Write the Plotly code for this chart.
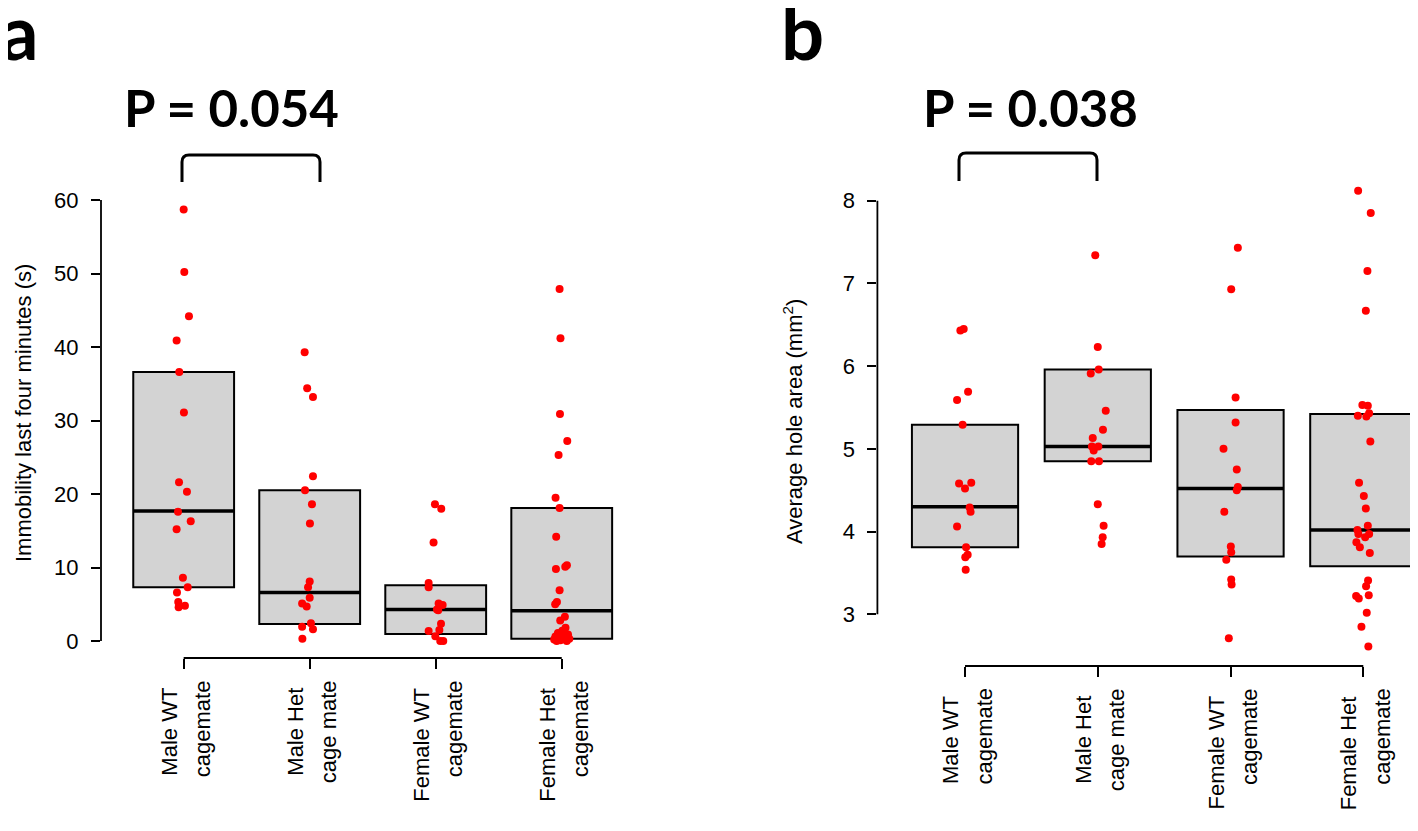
import plotly.graph_objects as go

# ---------------- data ----------------
categories = ["Male WT<br>cagemate", "Male Het<br>cage mate", "Female WT<br>cagemate", "Female Het<br>cagemate"]

# Panel a: immobility (s)
a_vals = [
    [58.7, 50.2, 44.2, 40.9, 36.6, 31.1, 21.6, 20.3, 17.6, 16.3, 15.2, 8.6, 7.3, 6.6, 5.3, 4.8, 4.6],
    [39.3, 34.4, 33.2, 22.4, 20.5, 18.6, 16.0, 8.1, 7.3, 5.9, 5.1, 4.7, 2.4, 1.95, 1.6, 0.3],
    [18.6, 18.0, 13.4, 7.9, 7.3, 5.1, 4.9, 4.3, 4.2, 2.35, 1.5, 1.36, 0.64, 0.0, 0.0],
    [47.9, 41.2, 30.9, 27.2, 25.3, 19.5, 18.1, 14.2, 10.3, 10.1, 9.8, 6.9, 5.3, 5.0, 3.3, 2.8,
     1.8, 1.4, 1.1, 0.9, 0.6, 0.5, 0.3, 0.2, 0.1, 0.0, 0.0],
]
a_jit = [
    [0.0, 0.005, 0.042, -0.056, -0.035, 0.002, -0.037, 0.026, -0.045, 0.056, -0.056, -0.006, 0.032, -0.053, -0.043, 0.010, -0.040],
    [-0.04, -0.02, 0.026, 0.026, -0.037, 0.018, 0.002, 0.0, -0.013, 0.0, -0.06, -0.024, 0.01, -0.06, 0.026, -0.058],
    [-0.006, 0.044, -0.017, -0.056, -0.056, 0.023, 0.055, 0.01, 0.02, 0.042, 0.029, -0.056, -0.003, 0.036, 0.06],
    [-0.017, -0.01, -0.014, 0.044, -0.025, -0.049, -0.017, -0.044, 0.041, 0.028, -0.046, -0.017, -0.038, -0.052, 0.025, -0.012,
     0.03, 0.004, -0.03, 0.05, -0.05, 0.01, 0.06, -0.06, -0.01, 0.04, -0.04],
]
a_q1 = [7.3, 2.3, 0.95, 0.3]
a_med = [17.7, 6.6, 4.3, 4.1]
a_q3 = [36.6, 20.5, 7.6, 18.1]
a_ticks = [0, 10, 20, 30, 40, 50, 60]

# Panel b: average hole area (mm^2)
b_vals = [
    [6.43, 6.45, 5.69, 5.59, 5.29, 4.59, 4.58, 4.52, 4.29, 4.24, 4.06, 3.81, 3.72, 3.69, 3.54],
    [7.34, 6.23, 5.96, 5.91, 5.46, 5.23, 5.13, 5.03, 5.03, 4.98, 4.85, 4.85, 4.33, 4.07, 3.93, 3.85],
    [7.43, 6.93, 5.62, 5.32, 5.00, 4.75, 4.54, 4.50, 4.24, 3.82, 3.75, 3.66, 3.42, 3.36, 2.71],
    [8.12, 7.85, 7.15, 6.67, 5.53, 5.52, 5.43, 5.40, 5.39, 5.09, 4.59, 4.43, 4.28, 4.07, 4.02, 3.97, 3.97,
     3.93, 3.87, 3.81, 3.74, 3.41, 3.34, 3.23, 3.22, 3.19, 3.02, 2.85, 2.61],
]
b_jit = [
    [-0.035, -0.01, 0.023, -0.06, -0.018, 0.047, -0.045, 0.0, 0.035, 0.042, -0.06, 0.008, 0.02, 0.002, 0.005],
    [-0.019, 0.0, 0.007, -0.053, 0.06, 0.039, -0.038, -0.044, 0.004, -0.031, -0.049, 0.009, 0.0, 0.044, 0.037, 0.029],
    [0.055, 0.005, 0.038, 0.038, -0.053, 0.047, 0.055, 0.047, -0.047, 0.002, 0.005, -0.032, 0.005, 0.008, -0.013],
    [-0.039, 0.056, 0.031, 0.019, -0.007, 0.034, 0.044, -0.041, 0.023, 0.053, -0.032, 0.004, 0.019, 0.034, -0.044, 0.044, -0.037,
     0.014, -0.052, -0.026, 0.049, 0.036, 0.021, 0.041, -0.054, -0.034, 0.026, -0.014, 0.038],
]
b_q1 = [3.81, 4.85, 3.70, 3.58]
b_med = [4.30, 5.03, 4.52, 4.02]
b_q3 = [5.29, 5.96, 5.47, 5.42]
b_ticks = [3, 4, 5, 6, 7, 8]

p_labels = ["P = 0.054", "P = 0.038"]
panel_letters = ["a", "b"]
y_titles = ["Immobility last four minutes (s)", "Average hole area (mm<sup>2</sup>)"]

# ---------------- layout geometry (pixels of the 1418x831 page) ----------------
OFF = 8                      # default page margin around the plot div
W, H = 1418 - OFF, 831 - OFF
FONT = "Liberation Sans, Arial, Helvetica, sans-serif"
BOLD = "Lato, Open Sans, sans-serif"

def pxx(p):
    return (p - OFF) / W

def pxy(p):
    return 1 - (p - OFF) / H

def yrange(top_px, bot_px, v0, p0, v1, p1):
    s = (p0 - p1) / (v1 - v0)
    return [v0 - (bot_px - p0) / s, v0 + (p0 - top_px) / s]

panels = [
    dict(xdom=(101.0, 644.4), xr=[-0.656, 3.656], ytop=183, ybot=658,
         yr=yrange(183, 658, 0, 641, 60, 200)),
    dict(xdom=(877.4, 1418.0), xr=[-0.66, 3.412], ytop=172, ybot=666,
         yr=yrange(172, 666, 3, 614.3, 8, 200.7)),
]

fig = go.Figure()
n = len(categories)
idx = list(range(n))

for k, (vals, jit, q1, med, q3) in enumerate([(a_vals, a_jit, a_q1, a_med, a_q3),
                                             (b_vals, b_jit, b_q1, b_med, b_q3)]):
    xa = "x" if k == 0 else "x2"
    ya = "y" if k == 0 else "y2"
    fig.add_trace(go.Bar(x=idx, y=[h - l for h, l in zip(q3, q1)], base=q1, width=0.8,
                         marker=dict(color="#d3d3d3", line=dict(color="black", width=2)),
                         xaxis=xa, yaxis=ya, showlegend=False, hoverinfo="skip"))
    mx, my = [], []
    for i in idx:
        mx += [i - 0.4, i + 0.4, None]
        my += [med[i], med[i], None]
    fig.add_trace(go.Scatter(x=mx, y=my, mode="lines", line=dict(color="black", width=3.5),
                             xaxis=xa, yaxis=ya, showlegend=False, hoverinfo="skip"))
    px_, py_ = [], []
    for i in idx:
        for v, j in zip(vals[i], jit[i]):
            px_.append(i + j)
            py_.append(v)
    fig.add_trace(go.Scatter(x=px_, y=py_, mode="markers",
                             marker=dict(color="#ff0000", size=8, line=dict(width=0)),
                             xaxis=xa, yaxis=ya, showlegend=False, cliponaxis=False))

axis_common = dict(showgrid=False, zeroline=False, showline=False, ticks="outside",
                   tickcolor="black", tickwidth=1.8, ticklen=9,
                   tickfont=dict(family=FONT, size=22, color="black"))

layout = dict(width=W, height=H, margin=dict(l=0, r=0, t=0, b=0),
              plot_bgcolor="white", paper_bgcolor="white", barmode="overlay",
              showlegend=False)

shapes = []
annotations = []
for k, P in enumerate(panels):
    sx = "" if k == 0 else "2"
    ticks = a_ticks if k == 0 else b_ticks
    layout["xaxis" + sx] = dict(axis_common, domain=[pxx(P["xdom"][0]), min(1.0, pxx(P["xdom"][1]))],
                                range=P["xr"], tickvals=idx, showticklabels=False,
                                ticklen=10, anchor="y" + sx, fixedrange=True)
    layout["yaxis" + sx] = dict(axis_common, domain=[pxy(P["ybot"]), pxy(P["ytop"])],
                                range=P["yr"], tickvals=ticks, ticklabelstandoff=8,
                                anchor="x" + sx, fixedrange=True)

    def mapx(v, P=P):
        x0, x1 = P["xdom"]
        r0, r1 = P["xr"]
        return pxx(x0 + (v - r0) / (r1 - r0) * (x1 - x0))

    def mapy(v, P=P):
        r0, r1 = P["yr"]
        return pxy(P["ybot"] - (v - r0) / (r1 - r0) * (P["ybot"] - P["ytop"]))

    # R-style axis lines spanning the tick range
    shapes.append(dict(type="line", xref="paper", yref="paper",
                       x0=pxx(P["xdom"][0]), x1=pxx(P["xdom"][0]),
                       y0=mapy(ticks[0]), y1=mapy(ticks[-1]),
                       line=dict(color="black", width=1.8)))
    shapes.append(dict(type="line", xref="paper", yref="paper",
                       x0=mapx(idx[0]), x1=mapx(idx[-1]),
                       y0=pxy(P["ybot"]), y1=pxy(P["ybot"]),
                       line=dict(color="black", width=1.8)))

    # two-line rotated category labels (R las=2 style)
    for i, cat in zip(idx, categories):
        line1, line2 = cat.split("<br>")
        for txt, xs, top in ((line1, -15, P["ybot"] + 29), (line2, 19, P["ybot"] + 21)):
            annotations.append(dict(text=txt, x=i, xref="x" + sx, y=pxy(top), yref="paper",
                                    xshift=xs, xanchor="center", yanchor="top", textangle=-90,
                                    showarrow=False, borderpad=0,
                                    font=dict(family=FONT, size=22, color="black")))

# significance brackets (pixel positions)
brackets = [(182, 320, 155, 182), (959, 1097, 153, 181)]
for (l, r, t, b) in brackets:
    rad = 7
    path = (f"M {pxx(l)},{pxy(b)} L {pxx(l)},{pxy(t + rad)} Q {pxx(l)},{pxy(t)} {pxx(l + rad)},{pxy(t)} "
            f"L {pxx(r - rad)},{pxy(t)} Q {pxx(r)},{pxy(t)} {pxx(r)},{pxy(t + rad)} L {pxx(r)},{pxy(b)}")
    shapes.append(dict(type="path", xref="paper", yref="paper", path=path,
                       line=dict(color="black", width=3)))

# P value labels
for txt, cx in zip(p_labels, [231, 1030]):
    annotations.append(dict(text=txt, x=pxx(cx), y=pxy(107), xref="paper", yref="paper",
                            xanchor="center", yanchor="middle", showarrow=False,
                            font=dict(family=BOLD, size=51, color="black", weight="bold")))
# panel letters
for txt, lx in zip(panel_letters, [-2, 779]):
    annotations.append(dict(text=txt, x=pxx(lx), y=pxy(30), xref="paper", yref="paper",
                            xanchor="left", yanchor="middle", showarrow=False,
                            font=dict(family=BOLD, size=76, color="black", weight="bold")))
# y titles
for txt, cx, cy in zip(y_titles, [23, 793], [413, 422]):
    annotations.append(dict(text=txt, x=pxx(cx), y=pxy(cy), xref="paper", yref="paper",
                            xanchor="center", yanchor="middle", textangle=-90, showarrow=False,
                            font=dict(family=FONT, size=22, color="black")))

layout["shapes"] = shapes
layout["annotations"] = annotations
fig.update_layout(**layout)
fig.write_html("out.html")
